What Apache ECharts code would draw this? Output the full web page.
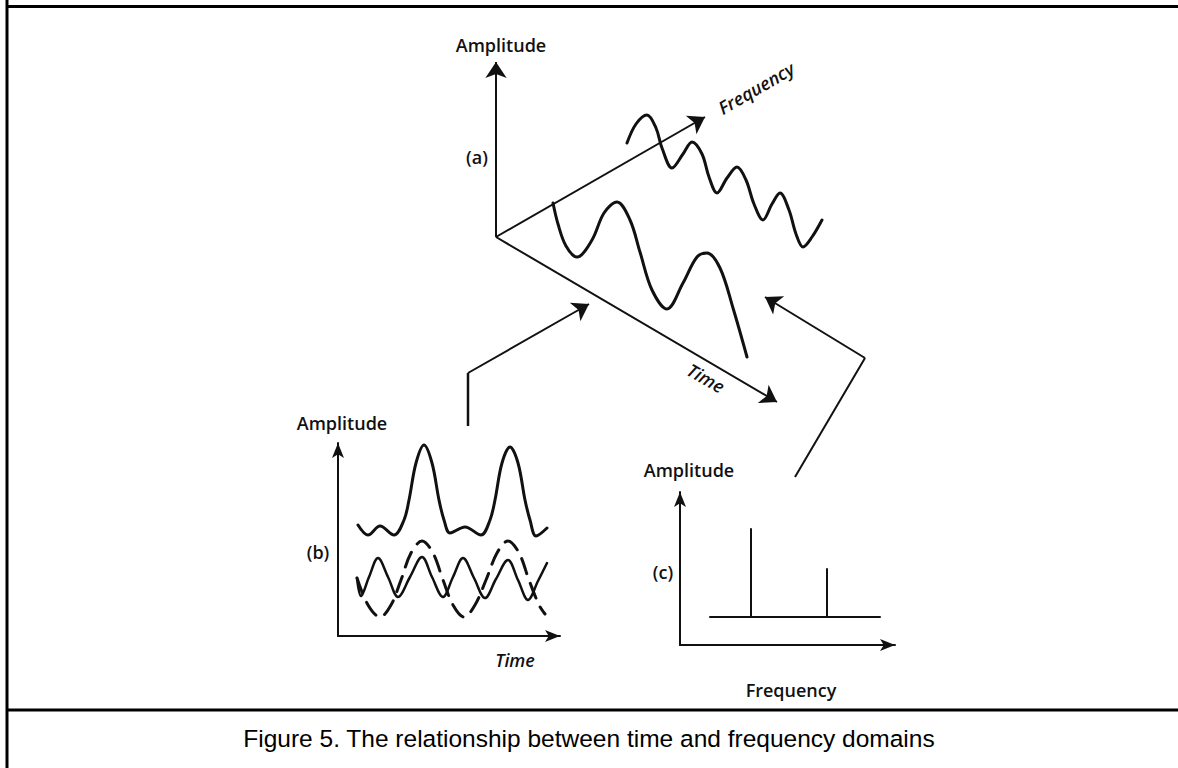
<!DOCTYPE html>
<html><head><meta charset="utf-8">
<script src="https://cdn.jsdelivr.net/npm/echarts@6.0.0/dist/echarts.min.js"></script>
<style>html,body{margin:0;padding:0;background:#fff}#c{width:1178px;height:768px}</style>
</head><body><div id="c"></div><script>
// ---- (a) 3-D sketch, page-pixel units ----
const aOrigin = [496, 237];
const aAmpTip = [496, 62];
const aFreqTip = [705, 117];
const aTimeTip = [777, 402];
const waveTimeDomain = [[553,203],[558,224],[566,246],[577,257],[592,240],[604,213],[617,202],[630,220],[640,252],[652,290],[667,309],[683,283],[697,257],[707,253],[720,268],[733,308],[747,357]];
const waveFreqDomain = [[627,143],[636,124],[647,115],[656,128],[662,148],[672,168],[683,154],[692,142],[702,154],[709,177],[717,193],[727,178],[737,167],[746,180],[754,204],[763,220],[772,204],[780,193],[789,210],[796,234],[803,247],[812,237],[822,220]];
const arrowFromB = [[468,426],[468,373],[589,304]];
const arrowFromC = [[795,477],[865,358],[765,297]];
// ---- (b) time domain, local units ----
const bSum = [[20,111],[30,101],[42,110],[56,101],[66,116],[71,136],[78,173],[86,191],[94,173],[101,136],[106,116],[112,103],[127,109],[143,101],[152,116],[157,136],[164,173],[172,189],[180,173],[187,136],[192,116],[198,100],[209,108]];
const bSolid = [[19,58],[23,40],[31,59],[40,78],[50,59],[60,39],[72,59],[84,79],[94,59],[105,39],[115,59],[125,78],[136,58],[147,38],[158,57],[170,76],[180,56],[190,36],[200,55],[209,73]];
const bDashed = [[19,58],[30,31],[42,19],[53,31],[63,56],[73,83],[84,95],[95,83],[105,56],[115,31],[126,19],[137,31],[148,56],[159,83],[170,95],[181,83],[191,56],[201,31],[207,22]];
// ---- (c) frequency domain, local units ----
const cBaseline = [[30,28],[200,28]];
const cSpike1 = [[71,28],[71,116]];
const cSpike2 = [[147,28],[147,76]];
// ---- texts ----
const labelFont = '"Open Sans", "DejaVu Sans", sans-serif';
const caption = 'Figure 5. The relationship between time and frequency domains';

const INK = '#111';
const chart = echarts.init(document.getElementById('c'), null, {renderer: 'svg'});

function hiddenAxis(i, max, inverse) {
  return {gridIndex: i, type: 'value', min: 0, max: max, inverse: !!inverse, show: false};
}
function arrowAxis(i, max) {
  return {gridIndex: i, type: 'value', min: 0, max: max,
    axisLine: {show: true, symbol: ['none', 'arrow'], symbolSize: [9, 15], lineStyle: {color: INK, width: 2}},
    axisTick: {show: false}, axisLabel: {show: false}, splitLine: {show: false}};
}
function wave(data, xi, width, dashed) {
  return {type: 'line', xAxisIndex: xi, yAxisIndex: xi, data: data, showSymbol: false, smooth: 0.35,
    lineStyle: {color: INK, width: width, type: dashed ? [16, 10] : 'solid', cap: 'round'}, silent: true, animation: false};
}
function straight(data, width) {
  return {type: 'line', xAxisIndex: 0, yAxisIndex: 0, data: data, showSymbol: false, smooth: false,
    lineStyle: {color: INK, width: width}, silent: true, animation: false};
}
function arrows(pairs, width) {
  return {type: 'lines', coordinateSystem: 'cartesian2d', xAxisIndex: 0, yAxisIndex: 0, polyline: false,
    symbol: ['none', 'arrow'], symbolSize: [10, 16],
    lineStyle: {color: INK, width: width, opacity: 1, curveness: 0},
    data: pairs.map(c => ({coords: c})), silent: true, animation: false};
}
function txt(x, y, s, opt, italic) {
  return Object.assign({type: 'text', x: x, y: y, style: {text: s, fill: INK, font: (italic ? 'italic ' : '') + '600 18px ' + labelFont, align: 'center', verticalAlign: 'middle'}}, opt || {});
}

chart.setOption({
  animation: false,
  backgroundColor: '#fff',
  grid: [
    {left: 0, top: 0, width: 1178, height: 768},
    {left: 338, top: 443, width: 222, height: 193},
    {left: 680, top: 492, width: 215, height: 153}
  ],
  xAxis: [hiddenAxis(0, 1178), arrowAxis(1, 222), arrowAxis(2, 215)],
  yAxis: [hiddenAxis(0, 768, true), arrowAxis(1, 193), arrowAxis(2, 153)],
  series: [
    arrows([[aOrigin, aAmpTip], [aOrigin, aFreqTip], [aOrigin, aTimeTip],
            [arrowFromB[1], arrowFromB[2]], [arrowFromC[1], arrowFromC[2]]], 2),
    straight(arrowFromB.slice(0, 2), 2.5),
    straight(arrowFromC.slice(0, 2), 2),
    wave(waveTimeDomain, 0, 3),
    wave(waveFreqDomain, 0, 3),
    wave(bSum, 1, 3),
    wave(bSolid, 1, 2.5),
    wave(bDashed, 1, 3, true),
    Object.assign(wave(cBaseline, 2, 2), {smooth: false}),
    Object.assign(wave(cSpike1, 2, 2), {smooth: false}),
    Object.assign(wave(cSpike2, 2, 2), {smooth: false})
  ],
  graphic: [
    {type: 'line', shape: {x1: 7, y1: 0, x2: 7, y2: 768}, style: {stroke: '#000', lineWidth: 3}},
    {type: 'line', shape: {x1: 6, y1: 6.5, x2: 1178, y2: 6.5}, style: {stroke: '#000', lineWidth: 3}},
    {type: 'line', shape: {x1: 6, y1: 710, x2: 1178, y2: 710}, style: {stroke: '#000', lineWidth: 3}},
    txt(501, 45, 'Amplitude'),
    txt(477, 157, '(a)'),
    txt(756, 88, 'Frequency', {rotation: Math.PI / 6}, true),
    txt(706, 378, 'Time', {rotation: -Math.PI / 6}, true),
    txt(342, 423, 'Amplitude'),
    txt(318, 552, '(b)'),
    txt(515, 660, 'Time', null, true),
    txt(689, 470, 'Amplitude'),
    txt(663, 572, '(c)'),
    txt(791, 690, 'Frequency'),
    {type: 'text', x: 589, y: 738, style: {text: caption, fill: '#000', font: '24.5px "Liberation Sans", Arial, sans-serif', align: 'center', verticalAlign: 'middle'}}
  ]
});
</script></body></html>
